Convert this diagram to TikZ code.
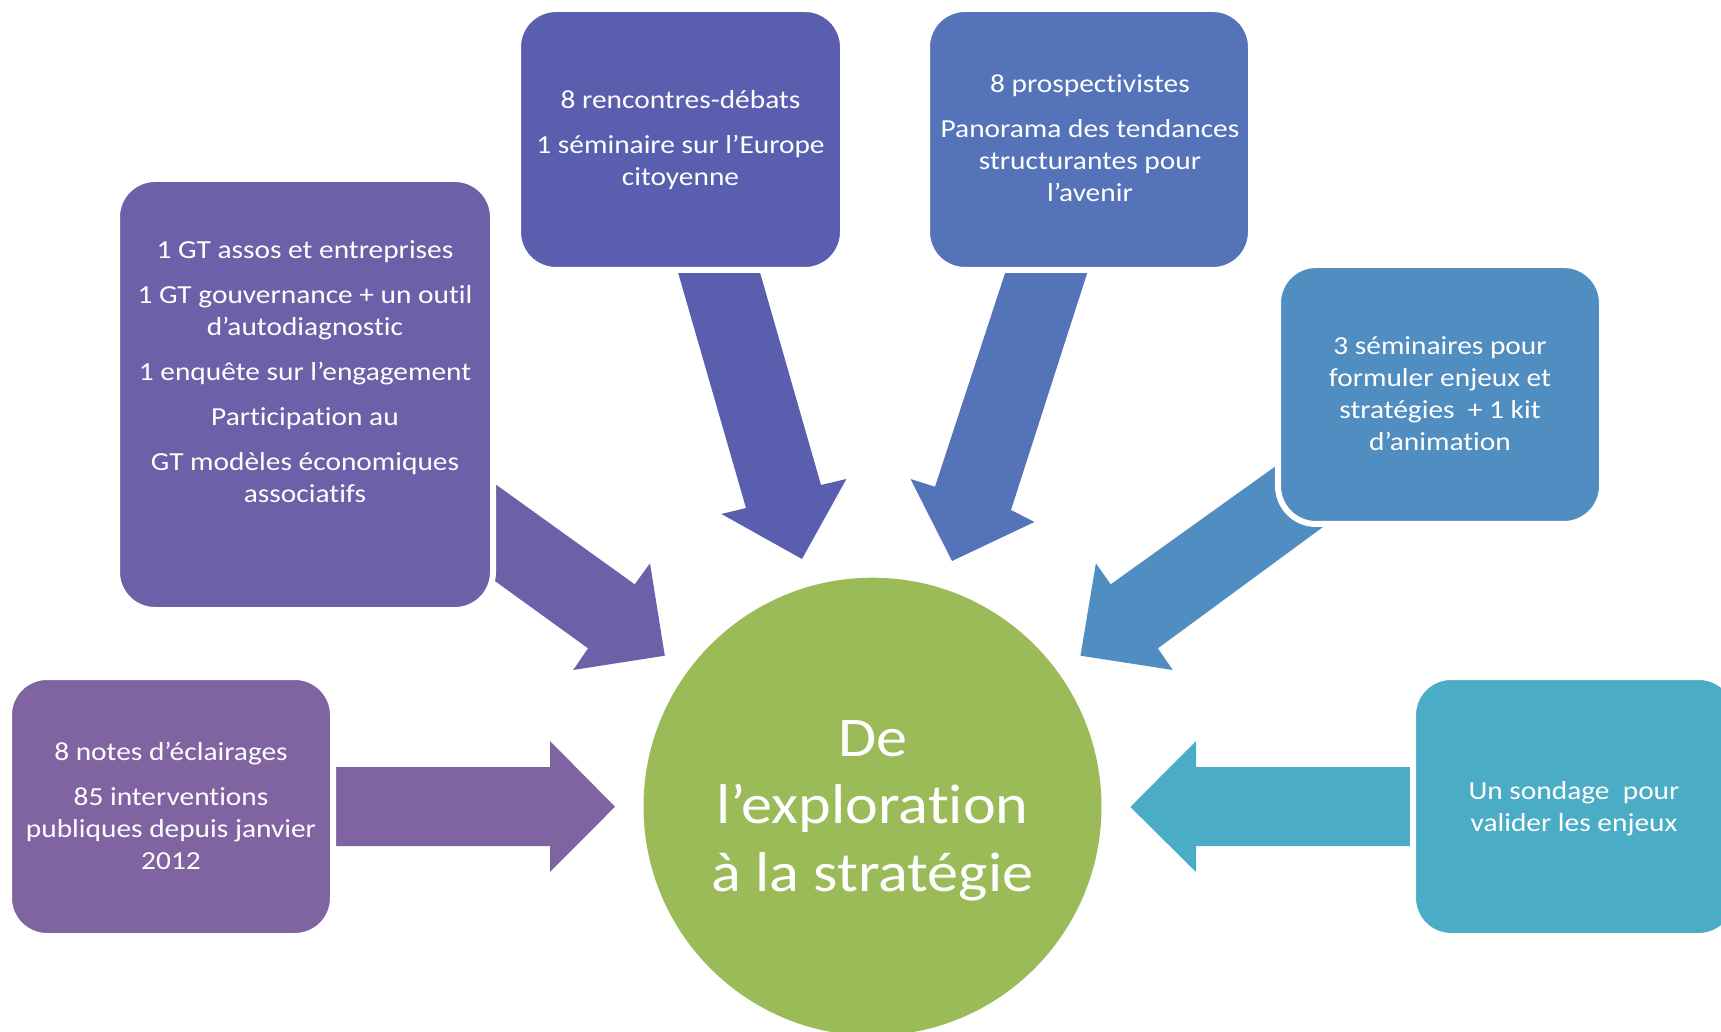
\documentclass[tikz,border=0pt]{standalone}
\usepackage{fontspec}
\setmainfont{Carlito}[Ligatures=NoCommon]
\newfontfamily\smallf{Carlito}[FakeStretch=1.13,Ligatures=NoCommon]
\newfontfamily\bigf{Carlito}[FakeStretch=1.11,Ligatures=NoCommon]
\definecolor{colA}{HTML}{6E60A8}
\definecolor{colB}{HTML}{5A5EAF}
\definecolor{colC}{HTML}{5573B9}
\definecolor{colD}{HTML}{508DC0}
\definecolor{colE}{HTML}{8064A2}
\definecolor{colF}{HTML}{4BACC6}
\definecolor{colG}{HTML}{9BBB59}
\tikzset{
  box/.style={rectangle, rounded corners=19pt, draw=white, line width=3pt, inner sep=0pt},
  txt/.style={text=white, align=center, inner sep=0pt, font=\smallf\fontsize{13}{16}\selectfont},
  bigtxt/.style={text=white, align=center, inner sep=0pt, font=\bigf\fontsize{28}{33.75}\selectfont},
}
\begin{document}
\begin{tikzpicture}[x=0.5pt,y=-0.5pt]
\path[use as bounding box] (0,0) rectangle (1721,1032);
\clip (0,0) rectangle (1721,1032);
% arrows
\fill[colA] (470,466) -- (634.7,584.3) -- (650,563.3) -- (664.8,655.7) -- (573.2,670) -- (588,648.3) -- (470,563) -- cycle;
\fill[colB] (673,255) -- (755,255) -- (821,485) -- (846.4,479) -- (802,559) -- (721.4,514) -- (746,508) -- cycle;
\fill[colC] (1011,255) -- (1093,255) -- (1011,510) -- (1034.4,522) -- (952,561) -- (910.5,479) -- (935,486.7) -- cycle;
\fill[colD] (1320,434.4) -- (1110.7,584.3) -- (1095.9,563.3) -- (1080.5,655.7) -- (1172.7,670) -- (1157.9,648.3) -- (1340,514.5) -- cycle;
\fill[colE] (320,767) -- (550,767) -- (550,741) -- (615,806.7) -- (550,872) -- (550,846) -- (320,846) -- cycle;
\fill[colF] (1430,767) -- (1196,767) -- (1196,741) -- (1130.4,807) -- (1196,872) -- (1196,846) -- (1430,846) -- cycle;
% boxes
\node[box, fill=colA, minimum width=188pt, minimum height=215.5pt] (bA) at (305,394.5) {};
\node[box, fill=colB, minimum width=162.5pt, minimum height=130.5pt] (bB) at (680.5,139.5) {};
\node[box, fill=colC, minimum width=162pt, minimum height=130.5pt] (bC) at (1089,139.5) {};
\node[box, fill=colD, minimum width=162pt, minimum height=129.5pt] (bD) at (1440,394.5) {};
\node[box, fill=colE, minimum width=162pt, minimum height=129.5pt] (bE) at (171,806.5) {};
\node[box, fill=colF, minimum width=162pt, minimum height=129.5pt] (bF) at (1575,806.5) {};
\node[circle, fill=colG, minimum size=229pt, inner sep=0pt] (cc) at (872.5,806.7) {};
% texts
\node[txt] (tA) at (305,371.5) {1 GT assos et entreprises\\[6.5pt]1 GT gouvernance + un outil\\d’autodiagnostic\\[6.5pt]1 enquête sur l’engagement\\[6.5pt]Participation au\\[6.5pt]GT modèles économiques\\associatifs};
\node[txt] (tB) at (680.5,140.5) {8 rencontres-débats\\[6.5pt]1 séminaire sur l’Europe\\citoyenne};
\node[txt] (tC) at (1090,137.7) {8 prospectivistes\\[6.5pt]Panorama des tendances\\structurantes pour\\l’avenir};
\node[txt] (tD) at (1440,393.9) {3 séminaires pour\\formuler enjeux et\\stratégies\ \ + 1 kit\\d’animation};
\node[txt] (tE) at (171,806.1) {8 notes d’éclairages\\[6.5pt]85 interventions\\publiques depuis janvier\\2012};
\node[txt] (tF) at (1574,808.4) {Un sondage\ \ pour\\valider les enjeux};
\node[bigtxt] (tG) at (872.6,810.6) {De\\l’exploration\\à la stratégie};
\end{tikzpicture}
\end{document}
